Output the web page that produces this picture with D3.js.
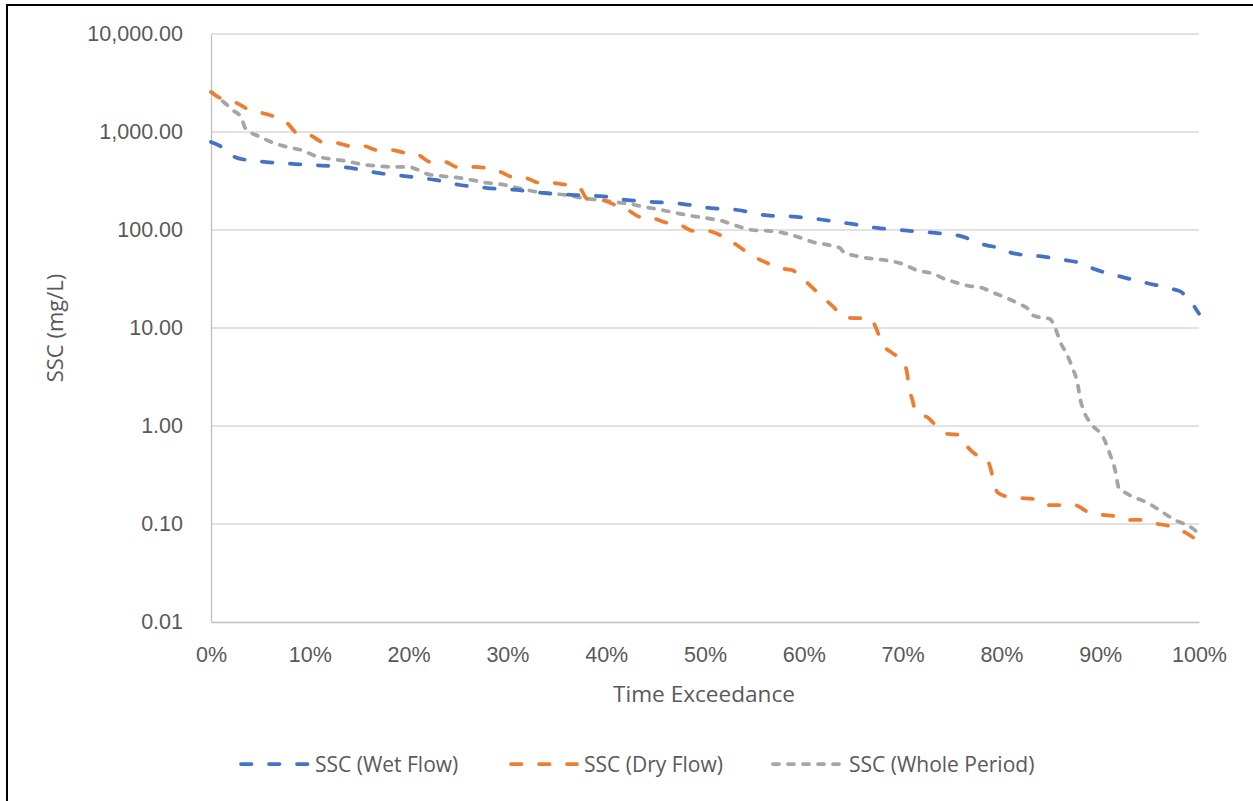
<!DOCTYPE html>
<html>
<head>
<meta charset="utf-8">
<script src="https://cdn.jsdelivr.net/npm/d3@7"></script>
<style>
  html, body { margin: 0; padding: 0; background: #fff; }
  svg { display: block; font-family: "Open Sans", "Liberation Sans", sans-serif; }
</style>
</head>
<body>
<svg id="chart" width="1253" height="801"></svg>
<script>
// Time exceedance (%) and SSC (mg/L) for each flow condition
const wetPct = [0, 1.1, 2.4, 3.6, 5.6, 8.5, 11.2, 14.1, 16.9, 19.6, 22.7, 25.2, 28, 30.9, 33.8, 36.5, 39.4, 42.2, 44.9, 47.8, 50.6, 53.3, 56.3, 58.9, 61.7, 64.7, 67.4, 70.2, 73, 75.8, 78.4, 80.5, 81.1, 83.9, 86.6, 88, 89.4, 92, 94.7, 97.3, 98.1, 98.9, 100];
const wetSSC = [790, 703, 556, 518, 494, 471, 455, 430, 382, 355, 324, 288, 268, 256, 238, 228, 222, 202, 193, 184, 167, 160, 141, 137, 128, 116, 105, 99, 94, 87, 70, 63, 58, 54, 49, 46, 40, 33.6, 28.8, 25, 23.6, 20, 14];

const dryPct = [0, 0.9, 2.6, 3.7, 5.2, 6.5, 7.7, 8.7, 10, 11.3, 12.8, 14.1, 15.4, 16.8, 18.3, 19.6, 21, 22.2, 23.7, 24.9, 26.4, 27.9, 29.3, 30.5, 31.8, 33.3, 34.6, 36, 37.3, 38.1, 39.6, 40.9, 42.2, 43.4, 44.7, 46.2, 47.5, 48.8, 50.2, 51.5, 52.8, 53.5, 55, 56.3, 57.4, 58.8, 59.9, 60.9, 61.9, 63, 64, 65.4, 66.7, 67.4, 67.9, 68.9, 69.9, 70.4, 70.7, 71, 71.3, 72.6, 73.8, 74.5, 75.8, 76.6, 77.6, 78.4, 78.8, 79.2, 79.6, 80.6, 81.9, 83.2, 84.6, 87.4, 88.8, 90.2, 91.5, 92.8, 94.2, 95.2, 97, 98.3, 100];
const drySSC = [2560, 2223, 1977, 1718, 1563, 1422, 1236, 977, 931, 790, 772, 720, 720, 655, 655, 611, 582, 494, 494, 440, 440, 430, 391, 347, 340, 302, 302, 288, 268, 207, 202, 180, 160, 136, 132, 118, 112, 98, 98, 89, 75, 67, 53, 46, 41, 39, 32, 25.6, 20.7, 16.4, 12.9, 12.6, 12.6, 9.5, 7.0, 5.6, 4.7, 3.7, 2.3, 1.84, 1.39, 1.21, 0.91, 0.83, 0.81, 0.61, 0.50, 0.48, 0.40, 0.28, 0.21, 0.19, 0.184, 0.18, 0.156, 0.156, 0.132, 0.124, 0.12, 0.11, 0.11, 0.103, 0.095, 0.085, 0.066];

const wholePct = [0, 1.4, 2.2, 3.1, 3.4, 3.9, 4.8, 6.1, 7.7, 9.1, 10.6, 12.1, 13.7, 15.1, 16.8, 18.4, 19.9, 21, 21.9, 23.4, 25.2, 28, 29.6, 31.1, 32.5, 34.1, 35.8, 37.6, 39.4, 40.9, 42.4, 43.9, 45.6, 47.1, 48.7, 50.2, 51.7, 53, 54.8, 56.4, 58, 59.4, 61, 62.6, 63.7, 64, 65.4, 66.9, 68.4, 70, 71.4, 73, 74.5, 75, 76.6, 78.1, 79, 80.3, 81.8, 82.7, 83.1, 84.2, 84.9, 85.4, 86.1, 86.5, 87.2, 87.7, 88, 88.3, 89.2, 90.3, 91, 91.5, 91.9, 92.5, 93.3, 94.6, 95.2, 96.3, 97.8, 99, 99.8, 100];
const wholeSSC = [2560, 1977, 1675, 1390, 1125, 1000, 910, 790, 703, 655, 569, 530, 505, 471, 450, 440, 440, 410, 372, 355, 340, 302, 290, 268, 250, 238, 228, 212, 202, 193, 184, 172, 160, 149, 139, 132, 124, 112, 100, 98, 93, 85, 75, 70, 65, 60, 54, 51, 49, 45, 39, 36, 31, 30, 27, 25.6, 23.3, 20.7, 17.6, 15.6, 13.6, 12.7, 12.4, 10.2, 6.7, 5.7, 3.9, 2.75, 1.84, 1.46, 1.02, 0.77, 0.51, 0.36, 0.23, 0.21, 0.19, 0.168, 0.156, 0.132, 0.107, 0.095, 0.081, 0.073];

const yTicks = [0.01, 0.1, 1, 10, 100, 1000, 10000];
const xTicks = [0, 10, 20, 30, 40, 50, 60, 70, 80, 90, 100];
const seriesNames = ["SSC (Wet Flow)", "SSC (Dry Flow)", "SSC (Whole Period)"];
const seriesColors = ["#4472C4", "#ED7D31", "#A5A5A5"];
const seriesDash = ["10.5 17.5", "10.5 17.5", "6 9"];

const svg = d3.select("#chart");
const plot = { left: 211, right: 1199, top: 34, bottom: 622 };
const textColor = "#595959";

// outer frame
svg.append("rect")
  .attr("x", 7).attr("y", 5)
  .attr("width", 1300).attr("height", 900)
  .attr("fill", "none").attr("stroke", "#000").attr("stroke-width", 2);

const x = d3.scaleLinear().domain([0, 100]).range([plot.left, plot.right]);
const y = d3.scaleLog().domain([0.01, 10000]).range([plot.bottom, plot.top]);

// horizontal gridlines
svg.append("g")
  .selectAll("line")
  .data(yTicks.slice(1))
  .join("line")
  .attr("x1", plot.left).attr("x2", plot.right)
  .attr("y1", d => y(d)).attr("y2", d => y(d))
  .attr("stroke", "#D9D9D9").attr("stroke-width", 1.3);

// y axis
const yAxis = svg.append("g")
  .attr("transform", `translate(${plot.left},0)`)
  .call(d3.axisLeft(y).tickValues(yTicks).tickFormat(d3.format(",.2f")).tickSize(0).tickPadding(28));
yAxis.select(".domain").attr("stroke", "#BFBFBF").attr("stroke-width", 1.3);
yAxis.selectAll("text").attr("fill", textColor).style("font-size", "21.5px").attr("font-family", null);

// x axis
const xAxis = svg.append("g")
  .attr("transform", `translate(0,${plot.bottom})`)
  .call(d3.axisBottom(x).tickValues(xTicks).tickFormat(d => d + "%").tickSize(0).tickPadding(25));
xAxis.select(".domain").attr("stroke", "#BFBFBF").attr("stroke-width", 1.3);
xAxis.selectAll("text").attr("fill", textColor).style("font-size", "21.5px").attr("font-family", null);

// axis titles
svg.append("text")
  .attr("x", 704).attr("y", 702)
  .attr("text-anchor", "middle").attr("fill", textColor)
  .style("font-size", "22.6px")
  .text("Time Exceedance");

svg.append("text")
  .attr("transform", `translate(63,${(plot.top + plot.bottom) / 2}) rotate(-90)`)
  .attr("text-anchor", "middle").attr("fill", textColor)
  .style("font-size", "22px")
  .text("SSC (mg/L)");

// series lines
const line = d3.line()
  .x(d => x(d[0]))
  .y(d => y(d[1]))
  .curve(d3.curveMonotoneX);

const seriesData = [
  d3.zip(wetPct, wetSSC),
  d3.zip(dryPct, drySSC),
  d3.zip(wholePct, wholeSSC)
];

const drawOrder = [2, 1, 0];
drawOrder.forEach(i => {
  svg.append("path")
    .datum(seriesData[i])
    .attr("d", line)
    .attr("fill", "none")
    .attr("stroke", seriesColors[i])
    .attr("stroke-width", 3.75)
    .attr("stroke-dasharray", seriesDash[i])
    .attr("stroke-linecap", "round")
    .attr("stroke-linejoin", "round");
});

// legend
const legendY = 764;
const legendItems = [
  { x1: 241, x2: 308, tx: 315 },
  { x1: 511, x2: 577, tx: 584 },
  { x1: 773, x2: 840, tx: 849 }
];
legendItems.forEach((it, i) => {
  svg.append("line")
    .attr("x1", it.x1).attr("x2", it.x2)
    .attr("y1", legendY).attr("y2", legendY)
    .attr("stroke", seriesColors[i])
    .attr("stroke-width", 3.75)
    .attr("stroke-dasharray", seriesDash[i])
    .attr("stroke-linecap", "round");
  svg.append("text")
    .attr("x", it.tx).attr("y", legendY)
    .attr("dy", "0.36em")
    .attr("fill", textColor)
    .style("font-size", "21px")
    .text(seriesNames[i]);
});
</script>
</body>
</html>
